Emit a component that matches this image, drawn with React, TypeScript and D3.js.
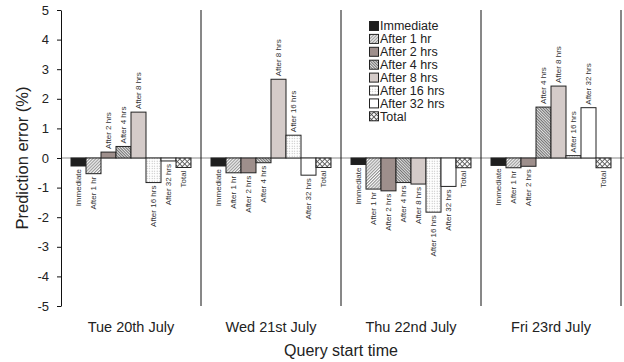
import React, { useEffect, useRef } from "react";
import * as d3 from "d3";

const days = ["Tue 20th July", "Wed 21st July", "Thu 22nd July", "Fri 23rd July"];

const series = [
  "Immediate",
  "After 1 hr",
  "After 2 hrs",
  "After 4 hrs",
  "After 8 hrs",
  "After 16 hrs",
  "After 32 hrs",
  "Total",
];

// prediction error (%) per series, one array per day
const tueValues = [-0.27, -0.53, 0.2, 0.39, 1.55, -0.83, -0.1, -0.32];
const wedValues = [-0.27, -0.5, -0.5, -0.16, 2.66, 0.77, -0.58, -0.32];
const thuValues = [-0.22, -1.05, -1.11, -0.83, -0.88, -1.83, -0.96, -0.33];
const friValues = [-0.25, -0.33, -0.28, 1.72, 2.43, 0.08, 1.7, -0.33];

const dayValues = [tueValues, wedValues, thuValues, friValues];

const fills = [
  "#1e1e1e",
  "url(#hatchBack)",
  "#9e8f8c",
  "url(#hatchFwd)",
  "#d4cbc9",
  "url(#dots)",
  "#ffffff",
  "url(#cross)",
];

const FONT = '"Liberation Sans", Arimo, Arial, Helvetica, sans-serif';

const App: React.FC = () => {
  const svgRef = useRef<SVGSVGElement | null>(null);

  useEffect(() => {
    const svg = d3.select(svgRef.current);
    svg.selectAll("*").remove();

    const width = 624;
    const height = 362;
    const plot = { left: 61, right: 621, top: 10, bottom: 306 };

    // patterns
    const defs = svg.append("defs");
    const back = defs
      .append("pattern")
      .attr("id", "hatchBack")
      .attr("patternUnits", "userSpaceOnUse")
      .attr("width", 2.2)
      .attr("height", 2.2)
      .attr("patternTransform", "rotate(-45)");
    back.append("rect").attr("width", 2.2).attr("height", 2.2).attr("fill", "#fff");
    back.append("line").attr("x1", 0).attr("x2", 2.2).attr("y1", 0.6).attr("y2", 0.6)
      .attr("stroke", "#777").attr("stroke-width", 0.9);

    const fwd = defs
      .append("pattern")
      .attr("id", "hatchFwd")
      .attr("patternUnits", "userSpaceOnUse")
      .attr("width", 2)
      .attr("height", 2)
      .attr("patternTransform", "rotate(45)");
    fwd.append("rect").attr("width", 2).attr("height", 2).attr("fill", "#eee");
    fwd.append("line").attr("x1", 0).attr("x2", 2).attr("y1", 0.6).attr("y2", 0.6)
      .attr("stroke", "#555").attr("stroke-width", 0.9);

    const dots = defs
      .append("pattern")
      .attr("id", "dots")
      .attr("patternUnits", "userSpaceOnUse")
      .attr("width", 2.5)
      .attr("height", 2.5);
    dots.append("rect").attr("width", 2.5).attr("height", 2.5).attr("fill", "#fff");
    dots.append("rect").attr("x", 0.7).attr("y", 0.7).attr("width", 0.8).attr("height", 0.8)
      .attr("fill", "#888");

    const cross = defs
      .append("pattern")
      .attr("id", "cross")
      .attr("patternUnits", "userSpaceOnUse")
      .attr("width", 3.5)
      .attr("height", 3.5)
      .attr("patternTransform", "rotate(45)");
    cross.append("rect").attr("width", 3.5).attr("height", 3.5).attr("fill", "#fff");
    cross.append("line").attr("x1", 0).attr("x2", 3.5).attr("y1", 0.5).attr("y2", 0.5)
      .attr("stroke", "#555").attr("stroke-width", 0.9);
    cross.append("line").attr("x1", 0.5).attr("x2", 0.5).attr("y1", 0).attr("y2", 3.5)
      .attr("stroke", "#555").attr("stroke-width", 0.9);

    const x0 = d3.scaleBand().domain(days).range([plot.left, plot.right]).padding(0);
    const x1 = d3.scaleBand().domain(series).range([10, 130]).padding(0);
    const y = d3.scaleLinear().domain([-5, 5]).range([plot.bottom, plot.top]);

    svg.append("rect").attr("width", width).attr("height", height).attr("fill", "#fff");

    // zero line
    svg
      .append("line")
      .attr("x1", plot.left)
      .attr("x2", width)
      .attr("y1", y(0))
      .attr("y2", y(0))
      .attr("stroke", "#888")
      .attr("stroke-width", 1);

    // group dividers
    svg
      .append("g")
      .selectAll("line")
      .data(days)
      .join("line")
      .attr("x1", (d) => x0(d)! + x0.bandwidth())
      .attr("x2", (d) => x0(d)! + x0.bandwidth())
      .attr("y1", plot.top)
      .attr("y2", plot.bottom)
      .attr("stroke", "#111")
      .attr("stroke-width", 1);

    // y axis
    const yAxis = svg
      .append("g")
      .attr("transform", `translate(${plot.left},0)`)
      .call(
        d3
          .axisLeft(y)
          .ticks(10)
          .tickSize(4)
          .tickSizeOuter(0)
          .tickPadding(8)
          .tickFormat((d) => String(d))
      );
    yAxis.attr("font-family", null).style("font-family", FONT);
    yAxis.select(".domain").attr("stroke", "#111");
    yAxis.selectAll(".tick line").attr("stroke", "#111");
    yAxis
      .selectAll(".tick text")
      .attr("font-size", 13)
      .style("font-family", FONT)
      .attr("fill", "#222");

    // bars
    days.forEach((day, di) => {
      const g = svg.append("g").attr("transform", `translate(${x0(day)},0)`);
      const rows = series.map((s, i) => ({ s, v: dayValues[di][i], fill: fills[i] }));

      g.selectAll("rect")
        .data(rows)
        .join("rect")
        .attr("x", (d) => x1(d.s)!)
        .attr("y", (d) => y(Math.max(0, d.v)))
        .attr("width", x1.bandwidth())
        .attr("height", (d) => Math.abs(y(d.v) - y(0)))
        .attr("fill", (d) => d.fill)
        .attr("stroke", "#222")
        .attr("stroke-width", 1);

      g.selectAll("text")
        .data(rows)
        .join("text")
        .attr("transform", (d) => {
          const cx = x1(d.s)! + x1.bandwidth() / 2;
          const yy = d.v >= 0 ? y(d.v) - 3 : y(d.v) + 3;
          return `translate(${cx},${yy}) rotate(-90)`;
        })
        .attr("dy", "0.35em")
        .attr("text-anchor", (d) => (d.v >= 0 ? "start" : "end"))
        .attr("font-size", 8)
        .style("font-family", FONT)
        .attr("fill", "#333")
        .text((d) => d.s);
    });

    // x labels
    svg
      .append("g")
      .selectAll("text")
      .data(days)
      .join("text")
      .attr("x", (d) => x0(d)! + x0.bandwidth() / 2)
      .attr("y", 332)
      .attr("text-anchor", "middle")
      .attr("font-size", 14.5)
      .style("font-family", FONT)
      .attr("fill", "#222")
      .text((d) => d);

    svg
      .append("text")
      .attr("x", (plot.left + plot.right) / 2)
      .attr("y", 356)
      .attr("text-anchor", "middle")
      .attr("font-size", 16)
      .style("font-family", FONT)
      .attr("fill", "#222")
      .text("Query start time");

    svg
      .append("text")
      .attr("transform", `translate(28,${y(0)}) rotate(-90)`)
      .attr("text-anchor", "middle")
      .attr("font-size", 16.5)
      .style("font-family", FONT)
      .attr("fill", "#222")
      .text("Prediction error (%)");

    // legend
    const legend = svg.append("g").attr("transform", "translate(369,26)");
    const item = legend
      .selectAll("g")
      .data(series)
      .join("g")
      .attr("transform", (_, i) => `translate(0,${i * 12.9})`);
    item
      .append("rect")
      .attr("x", 0.5)
      .attr("y", -4.5)
      .attr("width", 9)
      .attr("height", 9)
      .attr("fill", (_, i) => fills[i])
      .attr("stroke", "#222")
      .attr("stroke-width", 1);
    item
      .append("text")
      .attr("x", 11)
      .attr("dy", "0.35em")
      .attr("font-size", 12.5)
      .style("font-family", FONT)
      .attr("fill", "#222")
      .text((d) => d);
  }, []);

  return (
    <svg
      ref={svgRef}
      width={624}
      height={362}
      style={{ position: "absolute", left: 0, top: 0, display: "block" }}
    ></svg>
  );
};

export default App;
